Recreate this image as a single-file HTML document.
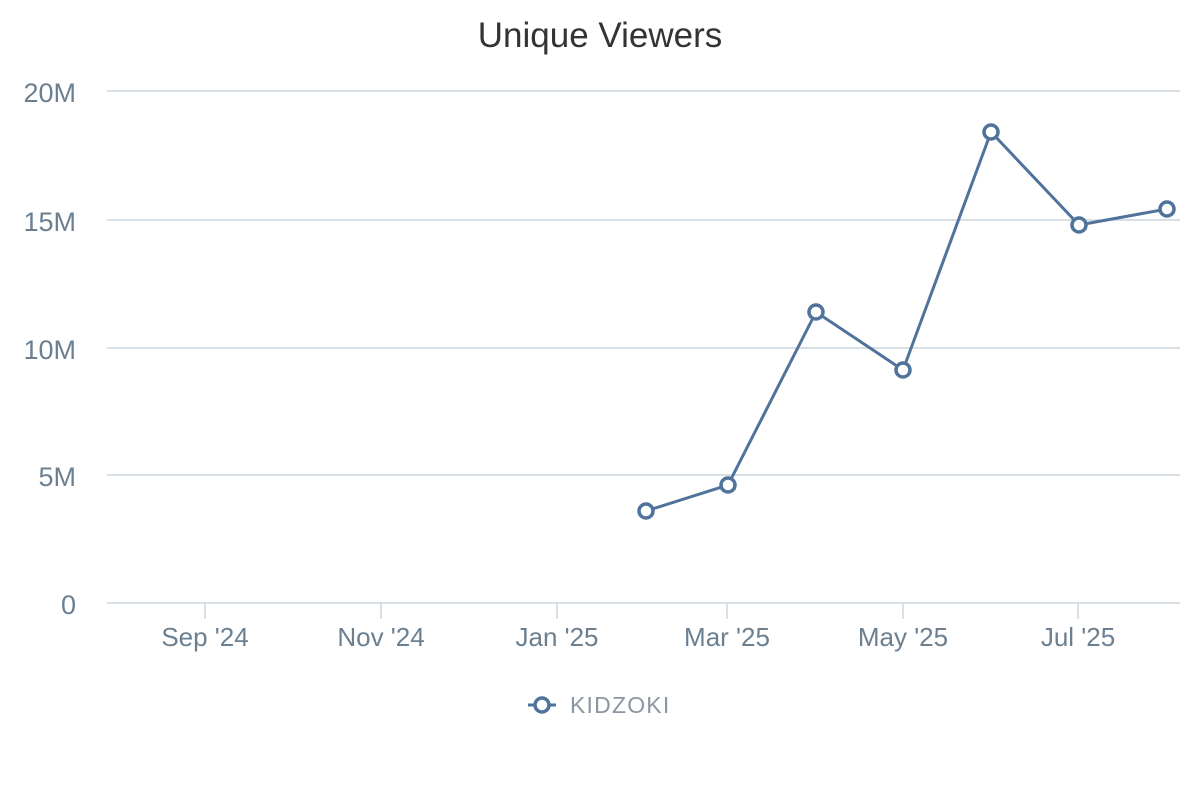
<!DOCTYPE html>
<html><head><meta charset="utf-8"><style>
body{margin:0;background:#fff;}
svg{display:block;font-family:"Liberation Sans",sans-serif;}
</style></head><body>
<svg width="1200" height="800" viewBox="0 0 1200 800">
<text x="600" y="47" text-anchor="middle" font-size="35" fill="#333">Unique Viewers</text>
<g stroke="#ccd6de" stroke-width="1.5">
<line x1="107" x2="1180" y1="91" y2="91"/>
<line x1="107" x2="1180" y1="220" y2="220"/>
<line x1="107" x2="1180" y1="348" y2="348"/>
<line x1="107" x2="1180" y1="475" y2="475"/>
<line x1="107" x2="1180" y1="603" y2="603"/>
<line x1="205" x2="205" y1="603" y2="619"/>
<line x1="381" x2="381" y1="603" y2="619"/>
<line x1="557" x2="557" y1="603" y2="619"/>
<line x1="727" x2="727" y1="603" y2="619"/>
<line x1="903" x2="903" y1="603" y2="619"/>
<line x1="1078" x2="1078" y1="603" y2="619"/>
</g>
<g font-size="27" fill="#6b7f90" text-anchor="end">
<text x="76" y="102">20M</text>
<text x="76" y="231">15M</text>
<text x="76" y="359">10M</text>
<text x="76" y="486">5M</text>
<text x="76" y="614">0</text>
</g>
<g font-size="26" fill="#6b7f90" text-anchor="middle">
<text x="205" y="646">Sep '24</text>
<text x="381" y="646">Nov '24</text>
<text x="557" y="646">Jan '25</text>
<text x="727" y="646">Mar '25</text>
<text x="903" y="646">May '25</text>
<text x="1078" y="646">Jul '25</text>
</g>
<polyline fill="none" stroke="#4f739b" stroke-width="3" points="646,511 728,485 816,312 903,370 991,132 1079,225 1167,209"/>
<g fill="#fff" stroke="#4f739b" stroke-width="3.5">
<circle cx="646" cy="511" r="7"/><circle cx="728" cy="485" r="7"/><circle cx="816" cy="312" r="7"/>
<circle cx="903" cy="370" r="7"/><circle cx="991" cy="132" r="7"/><circle cx="1079" cy="225" r="7"/>
<circle cx="1167" cy="209" r="7"/>
</g>
<line x1="528" x2="556" y1="705" y2="705" stroke="#4f739b" stroke-width="3"/>
<circle cx="542" cy="705" r="7" fill="#fff" stroke="#4f739b" stroke-width="3.5"/>
<text x="570" y="713" font-size="23" fill="#8a96a3" letter-spacing="1.2">KIDZOKI</text>
</svg>
</body></html>
